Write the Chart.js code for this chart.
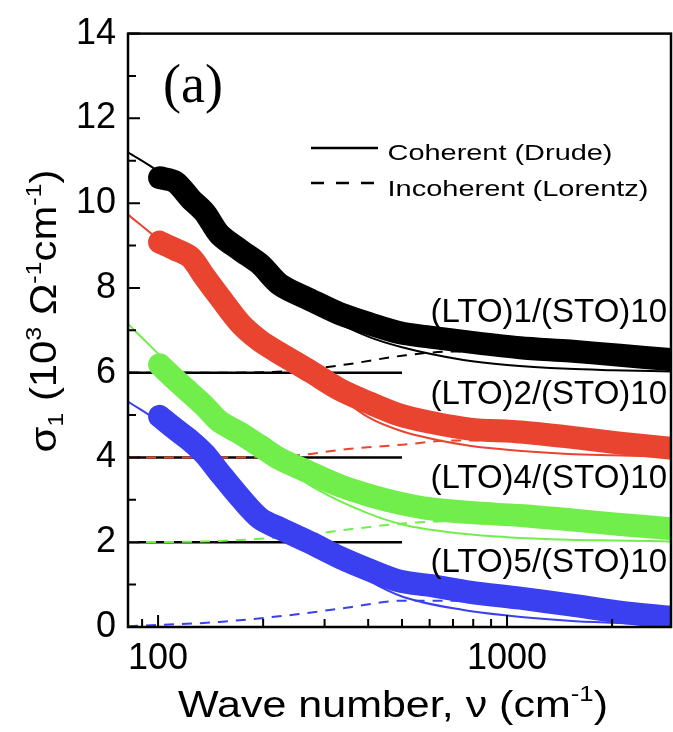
<!DOCTYPE html>
<html>
<head>
<meta charset="utf-8">
<script src="https://cdn.jsdelivr.net/npm/chart.js@4.4.0/dist/chart.umd.min.js"></script>
<style>
  html, body { margin: 0; padding: 0; background: #fff; }
  #wrap { width: 673px; height: 732px; }
</style>
</head>
<body>
<div id="wrap"><canvas id="sigmaChart"></canvas></div>
<script>
// measured sigma_1 (curves are offset by 6, 4, 2 and 0)
const waveNumber = [101, 112, 124, 136, 150, 172, 196, 224, 273, 332, 405, 493, 602, 783, 1089, 1515, 2108, 2931];
const sigmaLTO1 = [10.6, 10.5, 10.1, 9.78, 9.26, 8.89, 8.56, 8.07, 7.72, 7.39, 7.15, 6.94, 6.84, 6.72, 6.59, 6.51, 6.41, 6.31];
const sigmaLTO2 = [9.08, 8.91, 8.72, 8.26, 7.79, 7.16, 6.75, 6.45, 6.03, 5.6, 5.28, 5.0, 4.83, 4.67, 4.6, 4.48, 4.34, 4.22];
const sigmaLTO4 = [6.19, 5.84, 5.51, 5.21, 4.85, 4.57, 4.27, 3.96, 3.64, 3.33, 3.1, 2.92, 2.79, 2.7, 2.63, 2.53, 2.42, 2.32];
const sigmaLTO5 = [4.97, 4.67, 4.39, 4.08, 3.64, 3.05, 2.56, 2.32, 1.99, 1.64, 1.34, 1.08, 0.98, 0.82, 0.68, 0.52, 0.35, 0.23];

// coherent (Drude) part of the fits
const drudeWave = [82, 100, 130, 170, 220, 300, 400, 500, 750, 1000, 1500, 2000, 2950];
const drudeLTO1 = [11.2, 10.75, 9.95, 9.0, 8.1, 7.35, 6.85, 6.6, 6.3, 6.18, 6.09, 6.06, 6.03];
const drudeLTO2 = [9.73, 9.15, 8.3, 7.3, 6.4, 5.7, 4.95, 4.62, 4.3, 4.18, 4.08, 4.05, 4.02];
const drudeLTO4 = [7.15, 6.45, 5.5, 4.6, 3.85, 3.15, 2.68, 2.42, 2.2, 2.12, 2.06, 2.04, 2.02];
const drudeLTO5 = [5.32, 4.85, 4.0, 3.1, 2.35, 1.75, 1.1, 0.72, 0.4, 0.27, 0.15, 0.1, 0.05];

// incoherent (Lorentz) part of the fits
const lorentzWave = [82, 150, 250, 350, 500, 700, 1000, 1500, 2000, 2950];
const lorentzLTO1 = [6.0, 6.0, 6.05, 6.2, 6.4, 6.5, 6.48, 6.42, 6.35, 6.27];
const lorentzLTO2 = [4.0, 4.0, 4.05, 4.2, 4.3, 4.4, 4.4, 4.36, 4.3, 4.2];
const lorentzLTO4 = [2.0, 2.03, 2.15, 2.3, 2.44, 2.5, 2.45, 2.4, 2.35, 2.28];
const lorentzLTO5 = [0.02, 0.12, 0.3, 0.46, 0.62, 0.62, 0.5, 0.38, 0.3, 0.2];

// zero lines of the shifted curves
const baseWave = [82, 500];
const baseOffsets = [6, 4, 2];

const sampleNames = ["(LTO)1/(STO)10", "(LTO)2/(STO)10", "(LTO)4/(STO)10", "(LTO)5/(STO)10"];
const sampleColors = ["#000000", "#e8442f", "#72ee4c", "#3a40f0"];
const labelLevels = [7.2, 5.25, 3.28, 1.29];

const yTicks = [0, 2, 4, 6, 8, 10, 12, 14];
const yMinorTicks = [1, 3, 5, 7, 9, 11, 13];
const xTicks = [100, 1000];
const xMinorTicks = [90, 200, 300, 400, 500, 600, 700, 800, 900, 2000];

const SANS = '"Liberation Sans", Arial, sans-serif';

function pts(xs, ys) {
  return xs.map((x, i) => ({ x: x, y: ys[i] }));
}

const measured = [sigmaLTO1, sigmaLTO2, sigmaLTO4, sigmaLTO5];
const drude = [drudeLTO1, drudeLTO2, drudeLTO4, drudeLTO5];
const lorentz = [lorentzLTO1, lorentzLTO2, lorentzLTO4, lorentzLTO5];

const datasets = [];
baseOffsets.forEach(function (off) {
  datasets.push({ data: pts(baseWave, [off, off]), borderColor: "#000", borderWidth: 2.5, order: 5 });
});
lorentz.forEach(function (ys, i) {
  datasets.push({ data: pts(lorentzWave, ys), borderColor: sampleColors[i], borderWidth: 2, borderDash: [10, 8], cubicInterpolationMode: "monotone", order: 4 });
});
measured.forEach(function (ys, i) {
  datasets.push({ data: pts(waveNumber, ys), borderColor: sampleColors[i], borderWidth: 23, borderJoinStyle: "round", borderCapStyle: "round", tension: 0.3, order: 3 });
});
drude.forEach(function (ys, i) {
  datasets.push({ data: pts(drudeWave, ys), borderColor: sampleColors[i], borderWidth: 2, cubicInterpolationMode: "monotone", order: 1 });
});
datasets.forEach(function (d) { d.showLine = true; d.pointRadius = 0; d.clip = 0; });

function richText(ctx, parts, x, y, size, width) {
  let w = 0;
  parts.forEach(function (p) {
    ctx.font = (p[1] ? size * 0.6 : size) + "px " + SANS;
    w += ctx.measureText(p[0]).width;
  });
  const sx = width ? width / w : 1;
  ctx.save();
  ctx.translate(x, y);
  ctx.scale(sx, 1);
  ctx.textAlign = "left";
  ctx.textBaseline = "alphabetic";
  ctx.fillStyle = "#000";
  let cx = -w / 2;
  parts.forEach(function (p) {
    ctx.font = (p[1] ? size * 0.6 : size) + "px " + SANS;
    const dy = p[1] === "sup" ? -size * 0.42 : p[1] === "sub" ? size * 0.2 : 0;
    ctx.fillText(p[0], cx, dy);
    cx += ctx.measureText(p[0]).width;
  });
  ctx.restore();
}

const decor = {
  id: "decor",
  afterDraw: function (chart) {
    const ctx = chart.ctx;
    const a = chart.chartArea;
    const xs = chart.scales.x;
    const ys = chart.scales.y;
    ctx.save();
    ctx.strokeStyle = "#000";
    ctx.lineWidth = 2.5;
    ctx.strokeRect(a.left, a.top, a.right - a.left, a.bottom - a.top);

    ctx.lineWidth = 2;
    ctx.beginPath();
    yTicks.forEach(function (v) { const p = ys.getPixelForValue(v); ctx.moveTo(a.left, p); ctx.lineTo(a.left + 12, p); });
    yMinorTicks.forEach(function (v) { const p = ys.getPixelForValue(v); ctx.moveTo(a.left, p); ctx.lineTo(a.left + 8, p); });
    xTicks.forEach(function (v) { const p = xs.getPixelForValue(v); ctx.moveTo(p, a.bottom); ctx.lineTo(p, a.bottom - 12); });
    xMinorTicks.forEach(function (v) { const p = xs.getPixelForValue(v); ctx.moveTo(p, a.bottom); ctx.lineTo(p, a.bottom - 8); });
    ctx.stroke();

    // legend
    ctx.lineWidth = 2.5;
    ctx.beginPath();
    ctx.moveTo(311, 148);
    ctx.lineTo(378, 148);
    ctx.stroke();
    ctx.setLineDash([13, 12]);
    ctx.beginPath();
    ctx.moveTo(311, 183);
    ctx.lineTo(378, 183);
    ctx.stroke();
    ctx.setLineDash([]);
    richText(ctx, [["Coherent (Drude)", ""]], 388 + 112, 160, 22, 225);
    richText(ctx, [["Incoherent (Lorentz)", ""]], 388 + 130, 196, 22, 261);

    // sample names
    ctx.fillStyle = "#000";
    ctx.font = "33px " + SANS;
    ctx.textAlign = "right";
    ctx.textBaseline = "alphabetic";
    sampleNames.forEach(function (s, i) {
      ctx.fillText(s, a.right - 4, ys.getPixelForValue(labelLevels[i]));
    });

    // panel tag
    ctx.font = '54px "Liberation Serif", "Times New Roman", serif';
    ctx.textAlign = "left";
    ctx.fillText("(a)", a.left + 35, a.top + 68);

    // axis titles
    richText(ctx, [["Wave number, \u03bd (cm", ""], ["-1", "sup"], [")", ""]], 393, 717, 37, 430);
    ctx.save();
    ctx.translate(56, 311);
    ctx.rotate(-Math.PI / 2);
    richText(ctx, [["\u03c3", ""], ["1", "sub"], [" (10", ""], ["3", "sup"], [" \u03a9", ""], ["-1", "sup"], ["cm", ""], ["-1", "sup"], [")", ""]], 0, 0, 36, 283);
    ctx.restore();
    ctx.restore();
  }
};

new Chart(document.getElementById("sigmaChart").getContext("2d"), {
  type: "scatter",
  data: { datasets: datasets },
  options: {
    responsive: true,
    maintainAspectRatio: false,
    animation: false,
    devicePixelRatio: 1,
    layout: { padding: { top: 30, right: 2, left: 0, bottom: 0 } },
    plugins: { legend: { display: false }, tooltip: { enabled: false } },
    scales: {
      x: {
        type: "logarithmic",
        min: 82,
        max: 2950,
        grid: { display: false, drawTicks: false },
        border: { display: false },
        afterBuildTicks: function (s) { s.ticks = xTicks.map(function (v) { return { value: v }; }); },
        afterFit: function (s) { s.height = 105; },
        ticks: { font: { size: 36, family: SANS }, color: "#000", padding: 10, maxRotation: 0, autoSkip: false, callback: function (v) { return String(v); } }
      },
      y: {
        min: 0,
        max: 14,
        grid: { display: false, drawTicks: false },
        border: { display: false },
        afterFit: function (s) { s.width = 128; },
        ticks: { stepSize: 2, font: { size: 36, family: SANS }, color: "#000", padding: 12 }
      }
    }
  },
  plugins: [decor]
});
</script>
</body>
</html>
